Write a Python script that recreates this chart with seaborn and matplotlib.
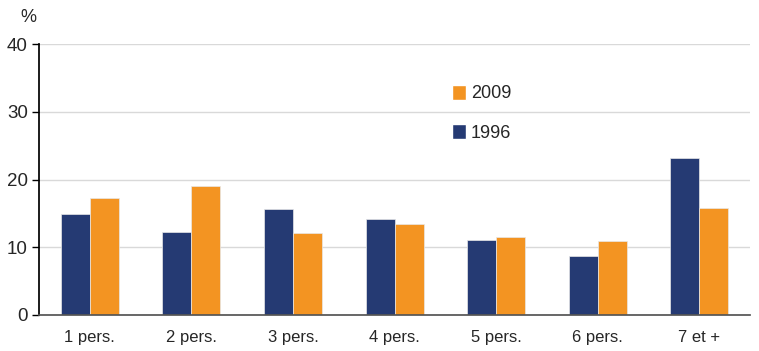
import numpy as np
import pandas as pd
import matplotlib
matplotlib.use("Agg")
import matplotlib.pyplot as plt
import seaborn as sns
from matplotlib.patches import Patch

categories = ["1 pers.", "2 pers.", "3 pers.", "4 pers.", "5 pers.", "6 pers.", "7 et +"]
values_1996 = [14.9, 12.3, 15.6, 14.2, 11.1, 8.7, 23.2]
values_2009 = [17.3, 19.0, 12.1, 13.5, 11.5, 10.9, 15.8]
yticks = [0, 10, 20, 30, 40]

navy = "#253A73"
orange = "#F39422"

sns.set_theme(style="white")
plt.rcParams["font.family"] = ["Liberation Sans Narrow", "Liberation Sans", "DejaVu Sans"]

df = pd.DataFrame({
    "cat": categories * 2,
    "year": ["1996"] * len(categories) + ["2009"] * len(categories),
    "val": values_1996 + values_2009,
})

fig = plt.figure(figsize=(7.59, 3.51), dpi=100)
ax = fig.add_axes([0.0514, 0.1026, 0.9370, 0.7720])
sns.barplot(data=df, x="cat", y="val", hue="year", hue_order=["1996", "2009"],
            palette=[navy, orange], width=0.57, saturation=1, ax=ax, legend=False,
            edgecolor="#E8E8E8", linewidth=0.5)

ax.set_xlim(-0.5, 6.5)
ax.set_ylim(0, 40)
ax.set_yticks(yticks)
ax.set_yticklabels([str(v) for v in yticks], fontsize=13.5)
ax.yaxis.grid(True, color="#D9D9D9", linewidth=1)
ax.set_axisbelow(True)
ax.set_xlabel("")
ax.set_ylabel("")
ax.tick_params(axis="x", which="major", length=0, labelsize=12, pad=11)
ax.set_xticks(np.arange(-0.5, 7, 1), minor=True)
ax.tick_params(axis="x", which="minor", length=5, width=1, color="#333333", direction="out")
ax.tick_params(axis="y", length=5, width=1, color="black", direction="out", pad=3, left=True)
for s in ["top", "right"]:
    ax.spines[s].set_visible(False)
ax.spines["left"].set_color("black")
ax.spines["bottom"].set_color("#555555")

handles = [Patch(facecolor=orange, label="2009"), Patch(facecolor=navy, label="1996")]
ax.legend(handles=handles, loc="upper left", bbox_to_anchor=(0.558, 0.91), frameon=False,
          fontsize=13, labelspacing=1.2, handlelength=0.75, handleheight=0.9, handletextpad=0.3)

fig.text(20 / 759, 1 - 17 / 351, "%", fontsize=13, ha="left", va="center")

fig.savefig("out.png", dpi=100)
